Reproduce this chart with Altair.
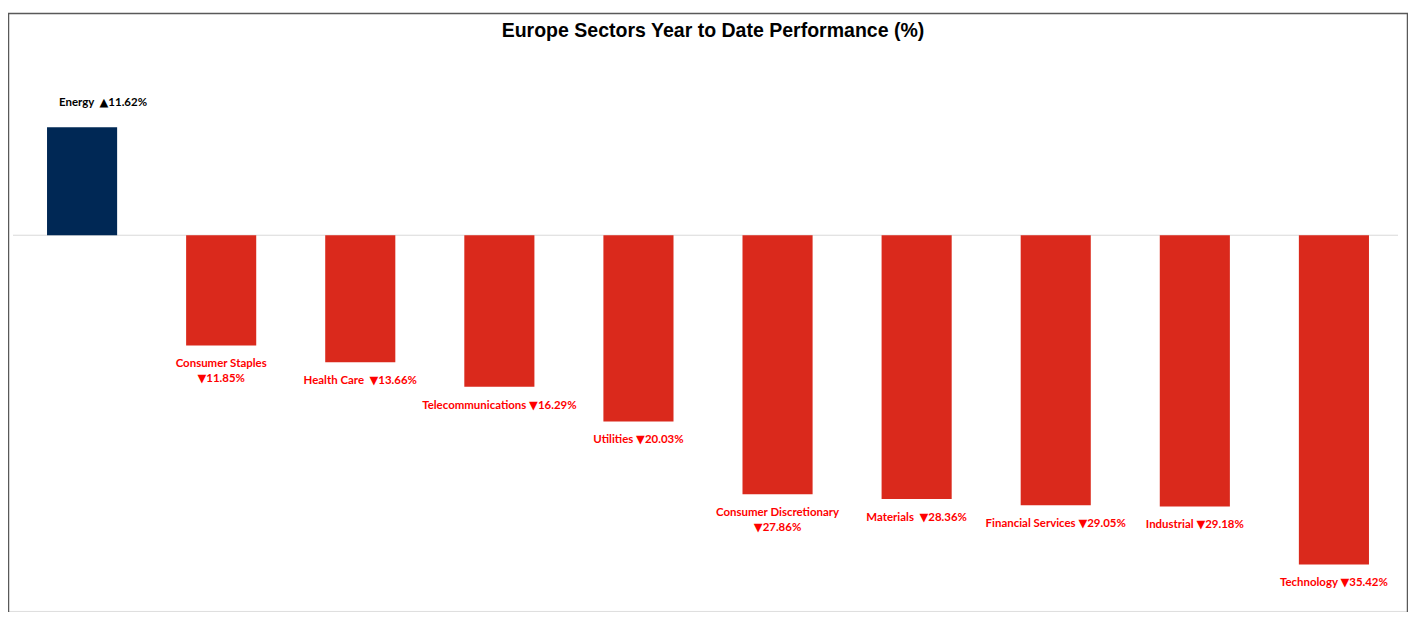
import altair as alt
import pandas as pd

sectors = ["Energy", "Consumer Staples", "Health Care", "Telecommunications", "Utilities",
           "Consumer Discretionary", "Materials", "Financial Services", "Industrial", "Technology"]
values = [11.62, -11.85, -13.66, -16.29, -20.03, -27.86, -28.36, -29.05, -29.18, -35.42]
wrapped = ["Consumer Staples", "Consumer Discretionary"]
wide_gap = ["Energy", "Health Care", "Materials"]
title_text = "Europe Sectors Year to Date Performance (%)"

labels = []
for s, v in zip(sectors, values):
    arrow = "\u25B2" if v >= 0 else "\u25BC"
    sep = "\n" if s in wrapped else "\u00A0\u00A0" if s in wide_gap else "\u00A0"
    labels.append(f"{s}{sep}{arrow}{abs(v):.2f}%")

df = pd.DataFrame({"sector": sectors, "value": values, "label": labels, "zero": [0.0] * len(sectors)})

W, H = 1405, 600
yscale = alt.Scale(domain=[-40.41, 23.90], nice=False, zero=False)
xscale = alt.Scale(paddingInner=0.496, paddingOuter=0.2806)

X = alt.X("sector:N", sort=sectors, scale=xscale, axis=None)
Y = alt.Y("value:Q", scale=yscale, axis=None)

LABEL_FONT = "Lato, DejaVu Sans"

bars = alt.Chart(df).mark_bar().encode(
    x=X, y=Y, y2="zero:Q",
    color=alt.condition(alt.datum.value >= 0, alt.value("#002855"), alt.value("#DA291C")),
)

pos_labels = alt.Chart(df).transform_filter(alt.datum.value >= 0).mark_text(
    font=LABEL_FONT, fontSize=11.5, fontWeight="bold", baseline="bottom", dy=-19, dx=21,
    color="#000000"
).encode(x=X, y=Y, text="label:N")

neg_labels = alt.Chart(df).transform_filter(alt.datum.value < 0).mark_text(
    font=LABEL_FONT, fontSize=11.5, fontWeight="bold", baseline="top", dy=13, color="#FF0000",
    lineBreak="\n", lineHeight=15
).encode(x=X, y=Y, text="label:N")

one = alt.Chart(df).transform_filter(alt.datum.sector == "Energy")

zero_line = one.mark_rule(color="#D9D9D9", strokeWidth=1).encode(
    y=alt.Y("zero:Q", scale=yscale, axis=None), x=alt.value(5), x2=alt.value(1395)
)

title = one.mark_text(
    font="Liberation Sans", fontSize=19.6, fontWeight="bold", color="#000000", text=title_text
).encode(x=alt.value(W / 2 + 5), y=alt.value(18))

frame_left = one.mark_rule(color="#595959", strokeWidth=1.5).encode(
    x=alt.value(0.5), y=alt.value(0), y2=alt.value(H + 10))
frame_right = one.mark_rule(color="#595959", strokeWidth=1.5).encode(
    x=alt.value(W - 0.5), y=alt.value(0), y2=alt.value(H + 10))
frame_top = one.mark_rule(color="#595959", strokeWidth=1.5).encode(
    x=alt.value(0), x2=alt.value(W), y=alt.value(0.5))

chart = alt.layer(
    zero_line, bars, pos_labels, neg_labels, title, frame_left, frame_right, frame_top
).properties(
    width=W, height=H,
    padding={"left": 0, "top": 4, "right": 0, "bottom": 0},
    autosize=alt.AutoSizeParams(type="none"),
).configure_view(stroke=None).configure(background="#FFFFFF")

chart.save("out.html", embed_options={"renderer": "svg", "actions": False})
